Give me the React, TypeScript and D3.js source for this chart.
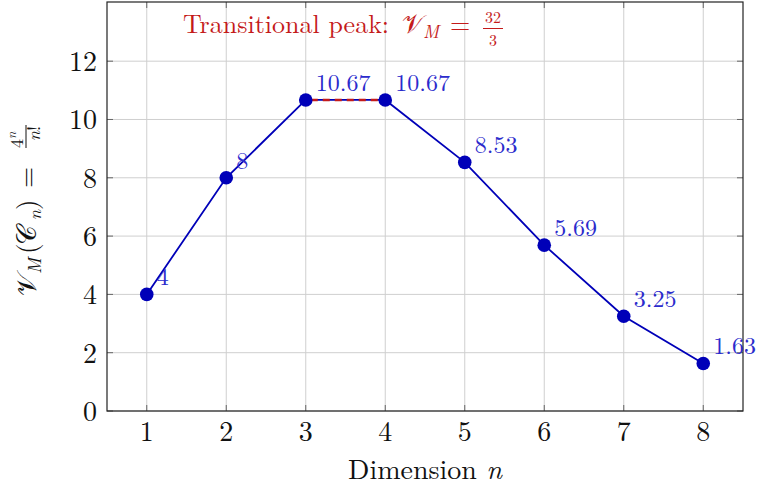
import React from "react";
import * as d3 from "d3";

// data
const dims = [1, 2, 3, 4, 5, 6, 7, 8];
const volumes = [4, 8, 10.67, 10.67, 8.53, 5.69, 3.25, 1.63];
const pointLabels = ["4", "8", "10.67", "10.67", "8.53", "5.69", "3.25", "1.63"];
const yTicks = [0, 2, 4, 6, 8, 10, 12];
const peakDims = [3, 4];

const W = 758;
const H = 492;
const margin = { top: 2, right: 15, bottom: 81, left: 107 };
const FONT = "'Latin Modern Roman', 'CMU Serif', 'Liberation Serif', serif";
const BLUE = "#0000b8";
const LABEL_BLUE = "#2b2bcc";
const RED = "#c41a1a";

const App = () => {
  const x = d3
    .scaleLinear()
    .domain([0.5, 8.5])
    .range([margin.left, W - margin.right]);
  const y = d3
    .scaleLinear()
    .domain([0, 14.03])
    .range([H - margin.bottom, margin.top]);

  const pts = dims.map((d, i) => ({ d, v: volumes[i], label: pointLabels[i] }));
  const line = d3
    .line<{ d: number; v: number }>()
    .x((p) => x(p.d))
    .y((p) => y(p.v));
  const peak = pts.filter((p) => peakDims.includes(p.d));

  const [x0, x1] = x.range();
  const [yb, yt] = y.range();

  return (
    <svg
      width={W}
      height={H}
      style={{ position: "absolute", left: 0, top: 0, fontFamily: FONT }}
    >
      <rect x={0} y={0} width={W} height={H} fill="#fff" />
      {/* grid */}
      {dims.map((d) => (
        <line key={"gx" + d} x1={x(d)} x2={x(d)} y1={yb} y2={yt} stroke="#cfcfcf" strokeWidth={1} />
      ))}
      {yTicks.map((t) => (
        <line key={"gy" + t} x1={x0} x2={x1} y1={y(t)} y2={y(t)} stroke="#cfcfcf" strokeWidth={1} />
      ))}
      {/* inward ticks */}
      {dims.map((d) => (
        <g key={"tx" + d} stroke="#666" strokeWidth={1}>
          <line x1={x(d)} x2={x(d)} y1={yb} y2={yb - 6} />
          <line x1={x(d)} x2={x(d)} y1={yt} y2={yt + 6} />
        </g>
      ))}
      {yTicks.map((t) => (
        <g key={"ty" + t} stroke="#666" strokeWidth={1}>
          <line x1={x0} x2={x0 + 6} y1={y(t)} y2={y(t)} />
          <line x1={x1} x2={x1 - 6} y1={y(t)} y2={y(t)} />
        </g>
      ))}
      <rect x={x0} y={yt} width={x1 - x0} height={yb - yt} fill="none" stroke="#222" strokeWidth={1.2} />

      {/* tick labels */}
      {dims.map((d) => (
        <text key={"lx" + d} x={x(d)} y={yb + 30} textAnchor="middle" fontSize={28} fill="#111">
          {d}
        </text>
      ))}
      {yTicks.map((t) => (
        <text key={"ly" + t} x={x0 - 10} y={y(t) + 10} textAnchor="end" fontSize={28} fill="#111">
          {t}
        </text>
      ))}

      {/* axis titles */}
      <text x={(x0 + x1) / 2} y={479} textAnchor="middle" fontSize={28} fill="#111">
        Dimension <tspan fontStyle="italic">n</tspan>
      </text>
      <g transform="translate(36,0) rotate(-90)" fill="#111">
        <text x={-296} y={0} fontSize={27}>
          𝒱
          <tspan x={-274} dy={5} fontSize={18} fontStyle="italic">M</tspan>
          <tspan x={-254} dy={-5}>(</tspan>
          <tspan x={-245}>𝒞</tspan>
          <tspan x={-220} dy={5} fontSize={18} fontStyle="italic">n</tspan>
          <tspan x={-210} dy={-5}>)</tspan>
          <tspan x={-188}>=</tspan>
        </text>
        <text x={-148} y={-13} fontSize={18}>
          4<tspan x={-139} dy={-7} fontSize={13} fontStyle="italic">n</tspan>
          <tspan x={-141} dy={24} fontStyle="italic">n</tspan>!
        </text>
        <line x1={-148} x2={-125} y1={-10} y2={-10} stroke="#111" strokeWidth={1} />
      </g>

      {/* series */}
      <path d={line(pts) ?? ""} fill="none" stroke={BLUE} strokeWidth={1.8} />
      <path
        d={line(peak) ?? ""}
        fill="none"
        stroke={RED}
        strokeWidth={2.4}
        strokeDasharray="7 5"
        strokeDashoffset={-5}
      />
      {pts.map((p) => (
        <circle key={"c" + p.d} cx={x(p.d)} cy={y(p.v)} r={6.8} fill={BLUE} />
      ))}
      {pts.map((p) => (
        <text key={"t" + p.d} x={x(p.d) + 10} y={y(p.v) - 9} fontSize={24} fill={LABEL_BLUE}>
          {p.label}
        </text>
      ))}

      {/* annotation */}
      <g fill={RED}>
        <text x={183} y={33} fontSize={26}>
          Transitional peak:
          <tspan x={402}>𝒱</tspan>
          <tspan x={423} dy={5} fontSize={18} fontStyle="italic">M</tspan>
          <tspan x={450} dy={-5}>=</tspan>
        </text>
        <text x={493} y={23} fontSize={16} textAnchor="middle">32</text>
        <line x1={483} x2={503} y1={28.5} y2={28.5} stroke={RED} strokeWidth={1} />
        <text x={493} y={46} fontSize={16} textAnchor="middle">3</text>
      </g>
    </svg>
  );
};

export default App;
